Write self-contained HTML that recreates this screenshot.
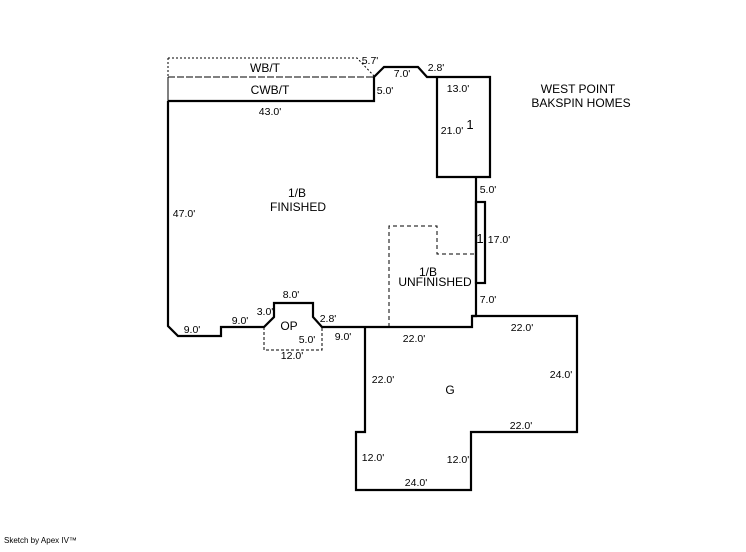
<!DOCTYPE html>
<html><head><style>
body{margin:0;background:#fff;}
svg text{font-family:"Liberation Sans",sans-serif;font-size:10.5px;fill:#000;}
svg text.b{font-size:12px;}
</style></head><body>
<svg width="746" height="547" viewBox="0 0 746 547" xmlns="http://www.w3.org/2000/svg">
<g fill="none" stroke="#000">
<path d="M168,58 H357 L375,77" stroke-width="1" stroke-dasharray="2,2"/>
<path d="M168,77 H375" stroke-width="1" stroke-dasharray="7,2"/>
<path d="M168,58 V101" stroke-width="1" stroke-dasharray="2,2"/>
<path d="M168,77 V101" stroke-width="1"/>
<path d="M389,327 V226 H437 V254 H476" stroke-width="1" stroke-dasharray="4,3"/>
<path d="M264,327 V350 H322 V327" stroke-width="1" stroke-dasharray="3,2"/>
<path d="M168,101 H374 V77 L384,67 H418 L427,77 H437 M437,77 H490 V177 H437 Z M476,177 V316 H472 V327 H322 L313,317 V303 H274 V317 L264,327 H221 V336 H178 L168,326 V101" stroke-width="2.2"/>
<rect x="476" y="202" width="9" height="81" stroke-width="2.2"/>
<path d="M472,316 H577 V432 H471 V490 H356 V432 H365 V327" stroke-width="2.2"/>
</g>
<g text-anchor="middle">
<text class="b" x="265" y="72">WB/T</text>
<text class="b" x="270" y="94">CWB/T</text>
<text x="370" y="64">5.7'</text>
<text x="402" y="77">7.0'</text>
<text x="436" y="71">2.8'</text>
<text x="385" y="94">5.0'</text>
<text x="458" y="92">13.0'</text>
<text x="452" y="134">21.0'</text>
<text x="470" y="129" style="font-size:13px">1</text>
<text x="270" y="115">43.0'</text>
<text class="b" x="578" y="93">WEST POINT</text>
<text class="b" x="581" y="107">BAKSPIN HOMES</text>
<text class="b" x="297" y="197">1/B</text>
<text class="b" x="298" y="211">FINISHED</text>
<text x="184" y="217">47.0'</text>
<text x="488" y="193">5.0'</text>
<text x="480" y="243" style="font-size:13px">1</text>
<text x="499" y="243">17.0'</text>
<text class="b" x="428" y="276">1/B</text>
<text class="b" x="435" y="286">UNFINISHED</text>
<text x="488" y="303">7.0'</text>
<text x="291" y="298">8.0'</text>
<text x="265" y="315">3.0'</text>
<text x="328" y="322">2.8'</text>
<text x="240" y="324">9.0'</text>
<text x="192" y="333">9.0'</text>
<text class="b" x="289" y="330">OP</text>
<text x="307" y="343">5.0'</text>
<text x="292" y="359">12.0'</text>
<text x="343" y="340">9.0'</text>
<text x="414" y="342">22.0'</text>
<text x="522" y="331">22.0'</text>
<text x="383" y="383">22.0'</text>
<text class="b" x="450" y="394">G</text>
<text x="561" y="378">24.0'</text>
<text x="521" y="429">22.0'</text>
<text x="373" y="461">12.0'</text>
<text x="458" y="463">12.0'</text>
<text x="416" y="486">24.0'</text>
</g>
<text x="4" y="543" style="font-size:8px">Sketch by Apex IV™</text>
</svg>
</body></html>
